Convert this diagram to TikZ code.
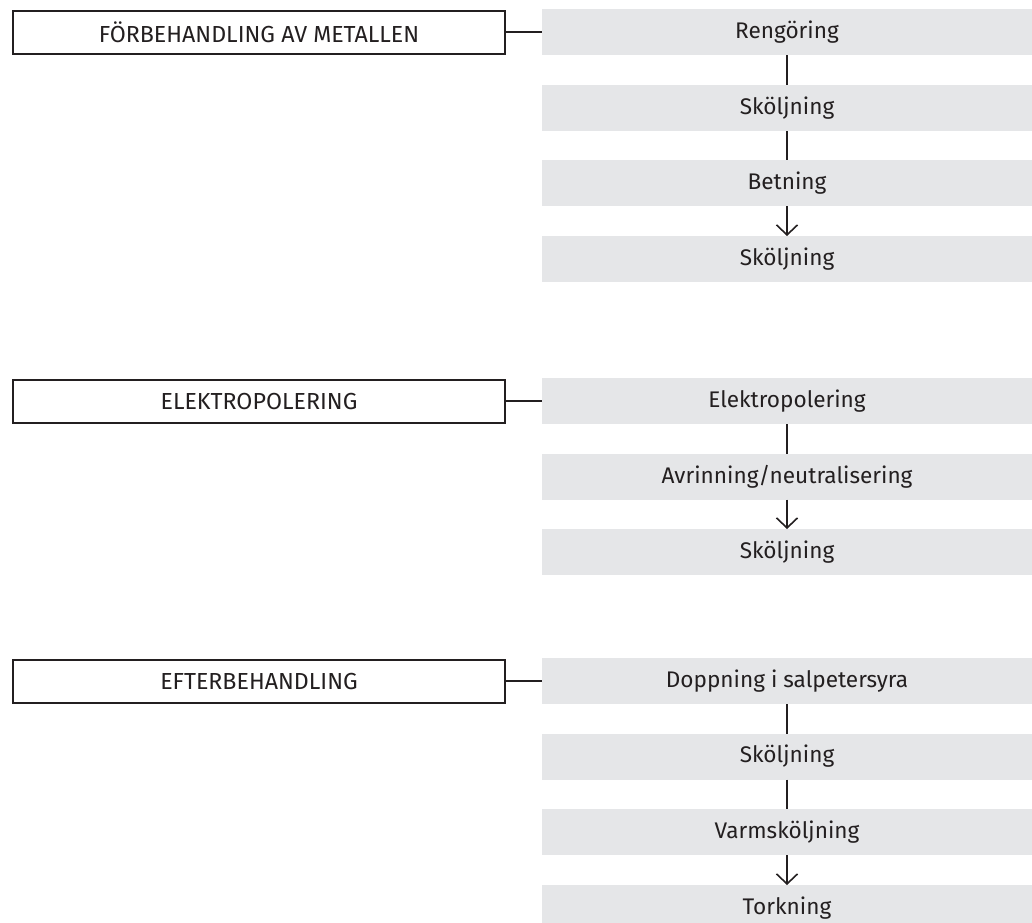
\documentclass[tikz,border=0pt]{standalone}
\usepackage{fontspec}
\setmainfont{Fira Sans}
\usetikzlibrary{arrows.meta}
\definecolor{ink}{HTML}{231F20}
\definecolor{boxgrey}{HTML}{E5E6E8}
\tikzset{
  stepbox/.style={fill=boxgrey, inner sep=0pt, outer sep=0pt, minimum width=490pt, minimum height=46pt, text=ink, font=\fontsize{22.6}{27}\selectfont},
  phasebox/.style={draw=ink, line width=2pt, fill=white, inner sep=0pt, outer sep=0pt, minimum width=492pt, minimum height=43pt, text=ink, font=\fontsize{23.2}{27}\selectfont},
  link/.style={draw=ink, line width=1.8pt},
  arr/.style={link, -{Straight Barb[length=10pt, width=21pt, line width=1.6pt]}}
}
\begin{document}
\begin{tikzpicture}[x=1pt, y=-1pt]
\useasboundingbox (0,0) rectangle (1032,922);
% Section 1
\node[phasebox] (p1) at (259,32) {FÖRBEHANDLING AV METALLEN};
\node[stepbox] (a1) at (787,32) {Rengöring};
\node[stepbox] (a2) at (787,108) {Sköljning};
\node[stepbox] (a3) at (787,183) {Betning};
\node[stepbox] (a4) at (787,259) {Sköljning};
\draw[link] (p1.east) -- (a1.west);
\draw[link] (a1.south) -- (a2.north);
\draw[link] (a2.south) -- (a3.north);
\draw[arr] (a3.south) -- (a4.north);
% Section 2
\node[phasebox] (p2) at (259,401) {ELEKTROPOLERING};
\node[stepbox] (b1) at (787,401) {Elektropolering};
\node[stepbox] (b2) at (787,476.5) {Avrinning/neutralisering};
\node[stepbox] (b3) at (787,552) {Sköljning};
\draw[link] (p2.east) -- (b1.west);
\draw[link] (b1.south) -- (b2.north);
\draw[arr] (b2.south) -- (b3.north);
% Section 3
\node[phasebox] (p3) at (259,681) {EFTERBEHANDLING};
\node[stepbox] (c1) at (787,681) {Doppning i salpetersyra};
\node[stepbox] (c2) at (787,756.5) {Sköljning};
\node[stepbox] (c3) at (787,832) {Varmsköljning};
\node[stepbox] (c4) at (787,908) {Torkning};
\draw[link] (p3.east) -- (c1.west);
\draw[link] (c1.south) -- (c2.north);
\draw[link] (c2.south) -- (c3.north);
\draw[arr] (c3.south) -- (c4.north);
\end{tikzpicture}
\end{document}
